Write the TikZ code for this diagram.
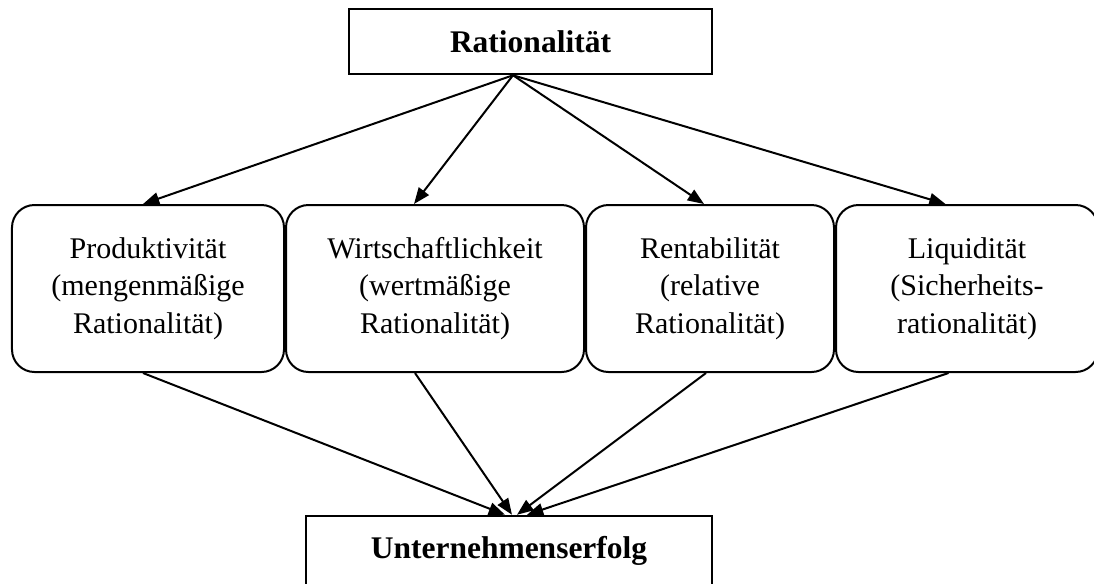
\documentclass[tikz,border=0pt]{standalone}
\usepackage{fontspec}
\setmainfont{Liberation Serif}
\usetikzlibrary{positioning,arrows.meta}
\begin{document}
\begin{tikzpicture}[x=0.4pt, y=-0.4pt, font=\fontsize{12}{15}\selectfont,
    every node/.style={draw, line width=0.8pt, inner sep=0pt, align=center},
    kopfbox/.style={rectangle, line width=1pt, minimum width=#1, minimum height=26pt, font=\fontsize{12.6}{15}\selectfont\bfseries},
    kasten/.style={rectangle, rounded corners=9pt, minimum width=#1, minimum height=66.8pt},
    pfeil/.style={-{Triangle[length=6.5pt,width=5pt]}, line width=0.8pt}]
    \useasboundingbox (0,0) rectangle (1094,583);
    \node[kopfbox=145.2pt] (rat) at (530.5,41.5) {Rationalität};
    \node[kasten=108.8pt] (prod) at (148,288.5) {Produktivität\\(mengenmäßige\\Rationalität)};
    \node[kasten=119.2pt] (wirt) [right=0pt of prod] {Wirtschaftlichkeit\\(wertmäßige\\Rationalität)};
    \node[kasten=99.2pt] (rent) [right=0pt of wirt] {Rentabilität\\(relative\\Rationalität)};
    \node[kasten=104.8pt] (liq) [right=0pt of rent] {Liquidität\\(Sicherheits-\\rationalität)};
    \node[kopfbox=162.4pt, minimum height=28pt] (erfolg) at (509,551) {Unternehmenserfolg};
    % von oben zu den Kaesten
    \draw[pfeil] ([xshift=-7pt]rat.south) -- ([xshift=-2pt]prod.north);
    \draw[pfeil] ([xshift=-7pt]rat.south) -- ([xshift=-8.4pt]wirt.north);
    \draw[pfeil] ([xshift=-7pt]rat.south) -- ([xshift=-2.4pt]rent.north);
    \draw[pfeil] ([xshift=-7pt]rat.south) -- ([xshift=-8.6pt]liq.north);
    % von den Kaesten nach unten
    \draw[pfeil] ([xshift=-2pt]prod.south) -- ([xshift=-1.6pt]erfolg.north);
    \draw[pfeil] ([xshift=-8pt]wirt.south) -- ([xshift=1.2pt]erfolg.north);
    \draw[pfeil] ([xshift=-1.6pt]rent.south) -- ([xshift=3.2pt]erfolg.north);
    \draw[pfeil] ([xshift=-7.4pt]liq.south) -- ([xshift=7.2pt]erfolg.north);
\end{tikzpicture}
\end{document}
